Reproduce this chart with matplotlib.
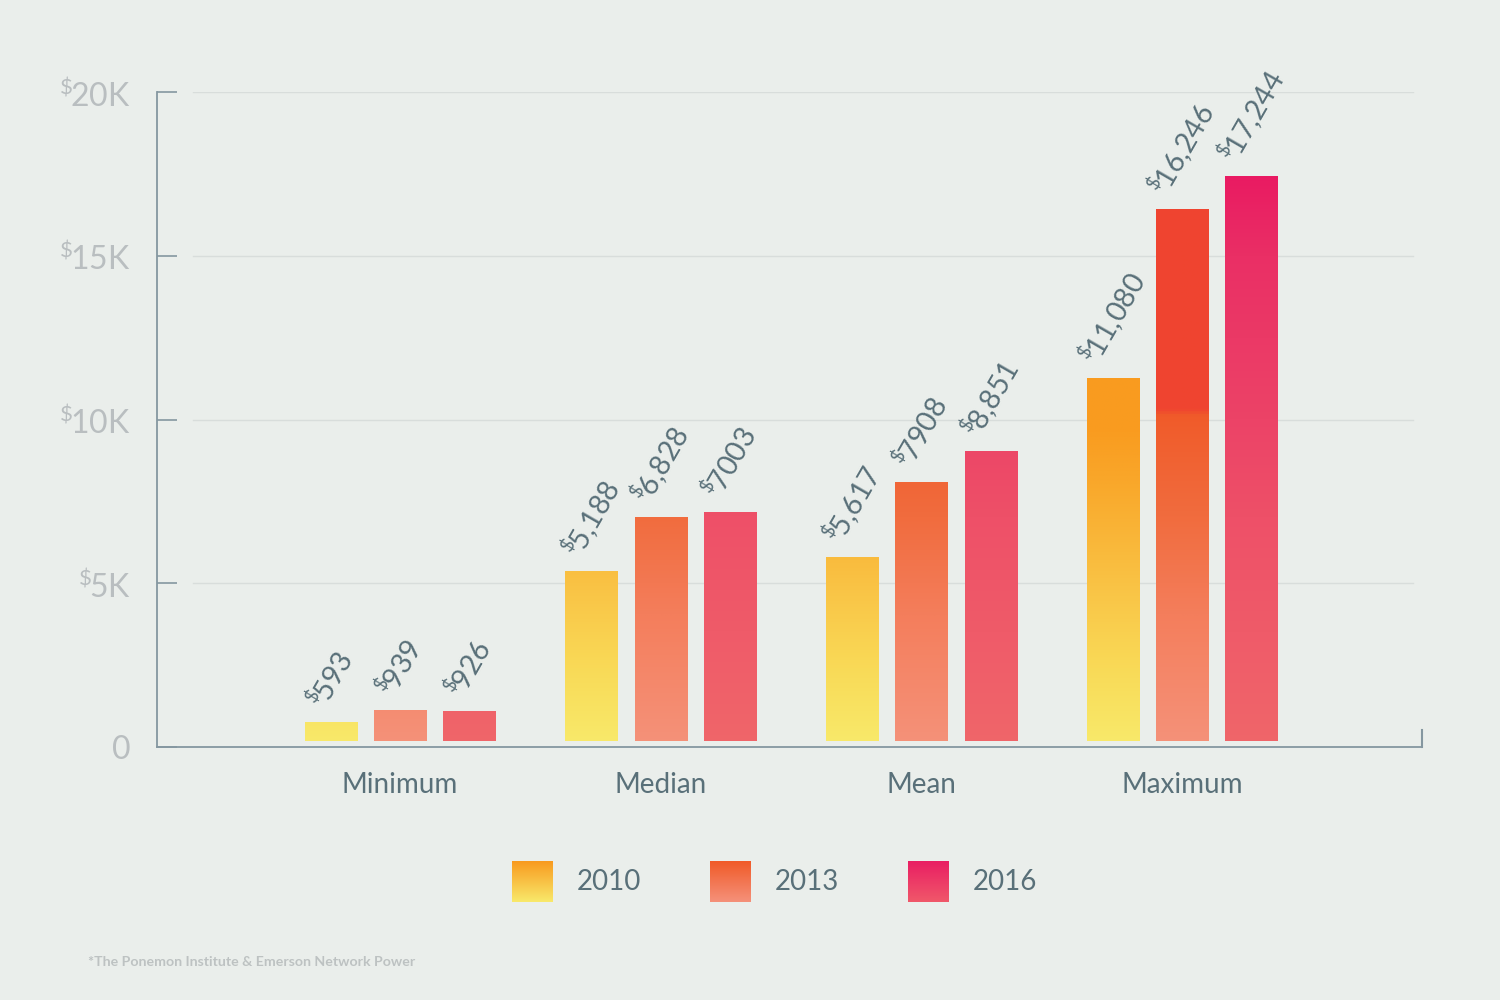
import numpy as np
import matplotlib
matplotlib.use('Agg')
import matplotlib.pyplot as plt
from matplotlib.colors import LinearSegmentedColormap

# dados
categorias = ['Minimum', 'Median', 'Mean', 'Maximum']
anos = ['2010', '2013', '2016']
valores_2010 = [593, 5188, 5617, 11080]
valores_2013 = [939, 6828, 7908, 16246]
valores_2016 = [926, 7003, 8851, 17244]
rotulos_2010 = ['593', '5{,}188', '5{,}617', '11{,}080']
rotulos_2013 = ['939', '6{,}828', '7908', '16{,}246']
rotulos_2016 = ['926', '7003', '8{,}851', '17{,}244']
y_ticks = [0, 5000, 10000, 15000, 20000]
y_tick_labels = ['0', '5K', '10K', '15K', '20K']
fonte = '*The Ponemon Institute & Emerson Network Power'

series = [valores_2010, valores_2013, valores_2016]
rotulos = [rotulos_2010, rotulos_2013, rotulos_2016]

# gradientes (posição absoluta no eixo y, 0 -> 20K)
gradientes = [
    [(0, '#F8EA6B'), (0.12, '#F9DA57'), (0.25, '#FAC244'), (0.4, '#F9A82B'),
     (0.48, '#F99C20'), (1, '#F99A1F')],
    [(0, '#F5927A'), (0.2, '#F47E5C'), (0.35, '#F16C3E'), (0.505, '#F05B2A'),
     (0.515, '#EF4530'), (1, '#F04430')],
    [(0, '#F0666A'), (0.35, '#EE5068'), (0.5, '#EC4367'), (0.75, '#EA2F65'),
     (0.87, '#E91B62'), (1, '#E91A62')],
]
legenda_grad = [('#F99A1F', '#F8E96B'), ('#F05A28', '#F5917A'), ('#E91E63', '#F0586A')]
cmaps = [LinearSegmentedColormap.from_list('g%d' % i, g) for i, g in enumerate(gradientes)]

fundo = '#EAEEEB'
cor_texto = '#597079'
cor_cinza = '#B9BEC0'
cor_eixo = '#8597A0'

plt.rcParams['font.family'] = ['Lato', 'DejaVu Sans']
plt.rcParams['mathtext.default'] = 'regular'

fig = plt.figure(figsize=(15, 10), dpi=100, facecolor=fundo)
ax = fig.add_axes([157 / 1500, 0.253, 1265 / 1500, 0.655])
ax.set_facecolor(fundo)

x = np.arange(len(categorias))
largura = 0.2
passo = 0.266
base = 183  # as barras começam um pouco acima do eixo

grad = np.linspace(0, 1, 512).reshape(-1, 1)
for i, (vals, labs) in enumerate(zip(series, rotulos)):
    pos = x + (i - 1) * passo
    barras = ax.bar(pos, vals, width=largura, bottom=base, color='none',
                    edgecolor='none', zorder=3)
    for b, v, lab in zip(barras, vals, labs):
        x0 = b.get_x()
        im = ax.imshow(grad, cmap=cmaps[i], origin='lower', aspect='auto',
                       extent=[x0, x0 + largura, 0, 20000], zorder=3)
        im.set_clip_path(b)
        ax.annotate(r'$^{\$}\hspace{-0.1}' + lab + '$', xy=(x0 + largura / 2, v + base),
                    xytext=(0, 6), textcoords='offset points', rotation=60,
                    ha='center', va='bottom', fontsize=20.5, color=cor_texto)

ax.set_xlim(-0.932, 3.92)
ax.set_ylim(0, 20000)

# grade
for t in y_ticks[1:]:
    ax.axhline(t, xmin=0.0285, xmax=0.993, color='#D8DDDB', lw=1, zorder=1)

ax.set_yticks(y_ticks)
ax.set_yticklabels([r'$^{\$}\hspace{-0.1}' + l + '$' if l != '0' else l for l in y_tick_labels])
ax.tick_params(axis='y', direction='in', length=14.5, width=1.2, color=cor_eixo,
               pad=19, labelsize=23, labelcolor=cor_cinza)

ax.set_xticks(x)
ax.set_xticklabels(categorias)
ax.tick_params(axis='x', length=0, pad=18, labelsize=20, labelcolor=cor_texto)

for s in ['top', 'right']:
    ax.spines[s].set_visible(False)
for s in ['left', 'bottom']:
    ax.spines[s].set_color(cor_eixo)
    ax.spines[s].set_linewidth(1.3)
ax.plot([1, 1], [0, 0.026], transform=ax.transAxes, color=cor_eixo, lw=1.5,
        clip_on=False)

# legenda
for i, ano in enumerate(anos):
    lx = 512 + i * 198
    lax = fig.add_axes([lx / 1500, 1 - 902 / 1000, 41 / 1500, 41 / 1000])
    cm = LinearSegmentedColormap.from_list('l%d' % i, [legenda_grad[i][1], legenda_grad[i][0]])
    lax.imshow(grad, cmap=cm, origin='lower', aspect='auto')
    lax.axis('off')
    fig.text((lx + 65) / 1500, 1 - 882 / 1000, ano, fontsize=20, color=cor_texto,
             va='center', ha='left')

fig.text(88 / 1500, 1 - 962 / 1000, fonte, fontsize=10.2, color='#BDC2C2',
         fontweight='bold', va='center', ha='left')

plt.savefig('out.png', dpi=100, facecolor=fundo)
